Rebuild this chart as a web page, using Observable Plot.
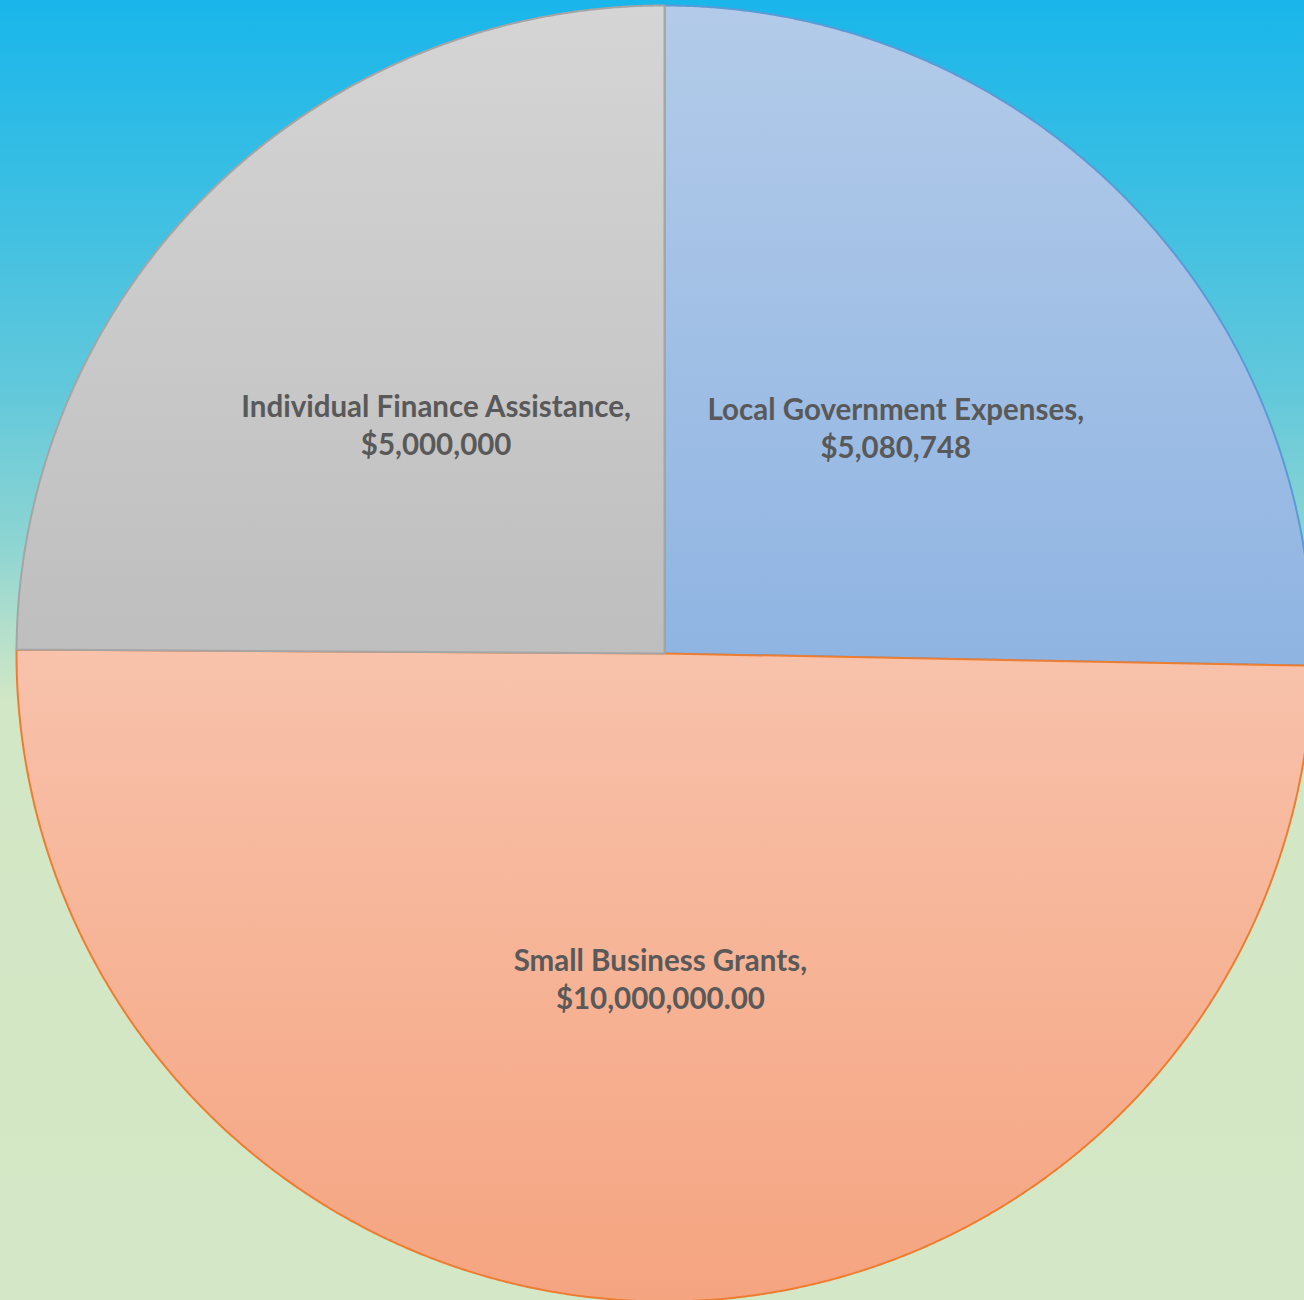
<!DOCTYPE html>
<html><head><meta charset="utf-8">
<script src="https://cdn.jsdelivr.net/npm/d3@7"></script>
<script src="https://cdn.jsdelivr.net/npm/@observablehq/plot@0.6"></script>
<style>
html,body{margin:0;padding:0;}
body{width:1304px;height:1300px;overflow:hidden;
background:linear-gradient(to bottom,#19b6eb 0%,#3bbfe3 15%,#62c8db 30%,#8ed5d2 42%,#b6e0cb 49%,#d2e7c5 54%,#d4e7c6 100%);}
#chart svg{display:block;background:transparent;}
</style></head><body><div id="chart"></div><script>
const categories = ["Local Government Expenses", "Small Business Grants", "Individual Finance Assistance"];
const values = [5080748, 10000000, 5000000];
const valueLabels = ["$5,080,748", "$10,000,000.00", "$5,000,000"];
const gradTop = ["#b3cbe9", "#f8c2ab", "#d5d5d5"];
const gradBottom = ["#8fb4e2", "#f5a480", "#bebebe"];
const strokes = ["#5b9bd5", "#ed7d31", "#a5a5a5"];

const arcs = d3.pie().sort(null).value(d => d.value)(categories.map((name, i) => ({name, value: values[i], i})));

const slicePts = arcs.map(a => {
  const pts = [{x: 0, y: 0}];
  const n = Math.max(2, Math.ceil((a.endAngle - a.startAngle) / 0.004));
  for (let k = 0; k <= n; k++) {
    const t = a.startAngle + (a.endAngle - a.startAngle) * k / n;
    pts.push({x: Math.sin(t), y: Math.cos(t)});
  }
  return pts;
});

const labels = arcs.map(a => {
  const m = (a.startAngle + a.endAngle) / 2;
  return {x: 0.5 * Math.sin(m), y: 0.5 * Math.cos(m), text: `${a.data.name},\n${valueLabels[a.data.i]}`};
});

const defsMark = () => {
  const defs = d3.create("svg:defs");
  arcs.forEach((a, i) => {
    const g = defs.append("linearGradient").attr("id", `sg${i}`).attr("x1", 0).attr("y1", 0).attr("x2", 0).attr("y2", 1);
    g.append("stop").attr("offset", "0%").attr("stop-color", gradTop[i]);
    g.append("stop").attr("offset", "100%").attr("stop-color", gradBottom[i]);
  });
  return defs.node();
};

const chart = Plot.plot({
  width: 1304,
  height: 1300,
  margin: 0,
  x: {domain: [-1, 1], range: [16, 1312], axis: null},
  y: {domain: [-1, 1], range: [1301, 5], axis: null},
  style: {background: "transparent", overflow: "visible"},
  marks: [
    defsMark,
    ...slicePts.map((pts, i) => Plot.line(pts, {x: "x", y: "y", curve: "linear-closed", fill: `url(#sg${i})`, stroke: strokes[i], strokeWidth: 2})),
    Plot.text(labels, {x: "x", y: "y", text: "text", fontSize: 29.5, fontWeight: "bold", fill: "#595959", lineHeight: 1.29, fontFamily: "Lato, 'Open Sans', sans-serif"})
  ]
});
document.getElementById("chart").append(chart);
</script></body></html>
